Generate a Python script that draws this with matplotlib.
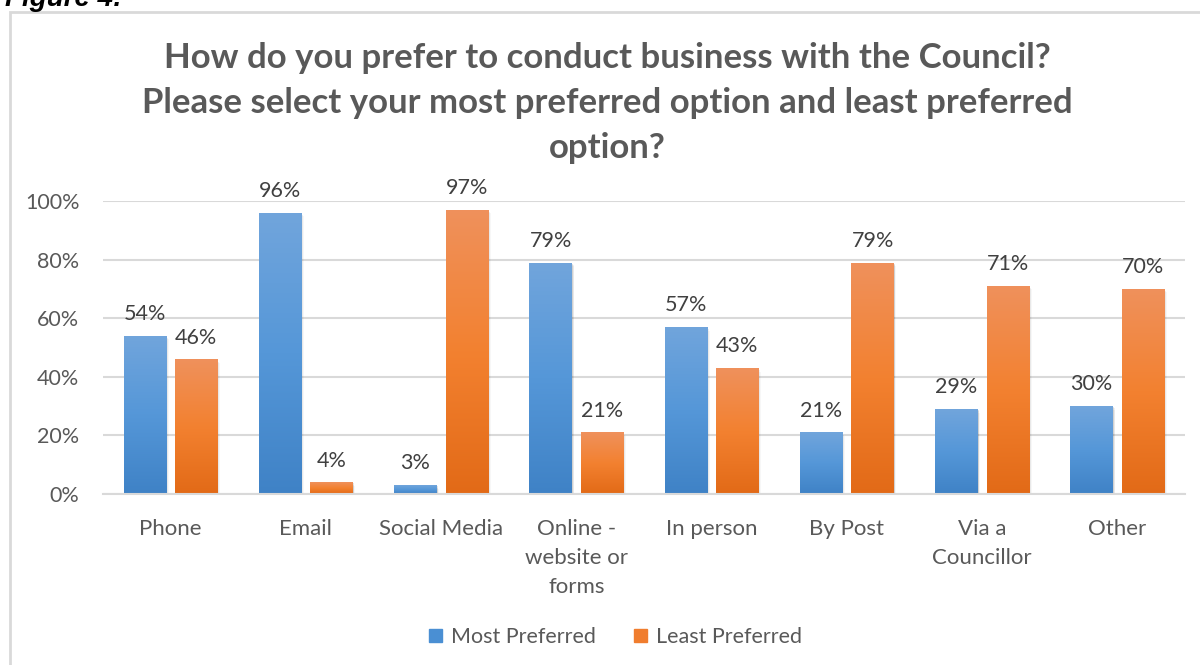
import matplotlib.pyplot as plt
import numpy as np
from matplotlib.colors import LinearSegmentedColormap
from matplotlib.patches import Rectangle
from matplotlib.ticker import FuncFormatter

plt.rcParams['font.family'] = ['Lato', 'DejaVu Sans']

# --- data ---
categories = ["Phone", "Email", "Social Media", "Online -\nwebsite or\nforms",
              "In person", "By Post", "Via a\nCouncillor", "Other"]
most_preferred = [54, 96, 3, 79, 57, 21, 29, 30]
least_preferred = [46, 4, 97, 21, 43, 79, 71, 70]
series_names = ["Most Preferred", "Least Preferred"]

title = ("How do you prefer to conduct business with the Council?\n"
         "Please select your most preferred option and least preferred\n"
         "option?")

grey = "#595959"
blue_grad = LinearSegmentedColormap.from_list("b", ["#3f82c6", "#5597d8", "#71a5dc"])
orange_grad = LinearSegmentedColormap.from_list("o", ["#e26a17", "#f38130", "#ef915c"])

fig = plt.figure(figsize=(12, 6.65), dpi=100)

# outer chart frame
fig.add_artist(Rectangle((10 / 1200, -0.01), 1.0, 1 - 12 / 665 + 0.01,
                         transform=fig.transFigure, fill=False,
                         edgecolor="#d9d9d9", linewidth=2))
fig.text(0.004, 1 - 6 / 665, "Figure 4:", fontsize=20, fontweight="bold",
         fontstyle="italic", family=["Liberation Sans", "DejaVu Sans"],
         va="baseline", ha="left", color="black")

ax = fig.add_axes([103 / 1200, 1 - 494 / 665, 1082 / 1200, 293 / 665])
x = np.arange(len(categories))
width = 0.315
offset = 0.19

bars_m = ax.bar(x - offset, np.array(most_preferred) / 100, width, color="#5b9bd5", zorder=2)
bars_l = ax.bar(x + offset, np.array(least_preferred) / 100, width, color="#ed7d31", zorder=2)

grad = np.linspace(0, 1, 256).reshape(-1, 1)
for bars, cmap in ((bars_m, blue_grad), (bars_l, orange_grad)):
    for b in bars:
        bx, by = b.get_x(), b.get_y()
        bw, bh = b.get_width(), b.get_height()
        # soft drop shadow
        for i, a in enumerate([0.10, 0.06, 0.03]):
            d = 0.006 * (i + 1)
            ax.add_patch(Rectangle((bx + d, by - 0.004 * (i + 1)), bw, bh,
                                   color="black", alpha=a, lw=0, zorder=1.5))
        b.set_facecolor("none")
        im = ax.imshow(grad, cmap=cmap, aspect="auto", origin="lower",
                       extent=[bx, bx + bw, by, by + bh], zorder=2.5)
        im.set_clip_path(b)

for bars, vals in ((bars_m, most_preferred), (bars_l, least_preferred)):
    for b, v in zip(bars, vals):
        ax.text(b.get_x() + b.get_width() / 2, v / 100 + 0.04, f"{v}%",
                ha="center", va="bottom", fontsize=15.5, color="#404040")

ax.set_xlim(-0.5, len(categories) - 0.5)
ax.set_ylim(0, 1.0)
ax.set_yticks(np.arange(0, 1.01, 0.2))
ax.yaxis.set_major_formatter(FuncFormatter(lambda v, p: f"{v * 100:.0f}%"))
ax.set_xticks(x)
ax.set_xticklabels(categories, fontsize=16, color=grey, linespacing=1.55)
ax.tick_params(axis="y", labelsize=15.5, labelcolor=grey, length=0, pad=17)
ax.tick_params(axis="x", length=0, pad=18)
ax.grid(axis="y", color="#d9d9d9", linewidth=1.5, zorder=0)
ax.set_axisbelow(True)
for s in ["top", "right", "left"]:
    ax.spines[s].set_visible(False)
ax.spines["bottom"].set_color("#d9d9d9")
ax.spines["bottom"].set_linewidth(1.5)

fig.text(0.506, 1 - 42 / 665, title, ha="center", va="top", fontsize=25,
         fontweight="bold", color=grey, linespacing=1.5)

handles = [Rectangle((0, 0), 1, 1, color="#4a8fd3"), Rectangle((0, 0), 1, 1, color="#f07d2e")]
fig.legend(handles, series_names, loc="center", bbox_to_anchor=(0.513, 1 - 637 / 665),
           ncol=2, frameon=False, fontsize=15.5, handlelength=0.6, handleheight=0.6,
           columnspacing=1.8, handletextpad=0.4, labelcolor=grey)

fig.savefig("out.png", dpi=100)
